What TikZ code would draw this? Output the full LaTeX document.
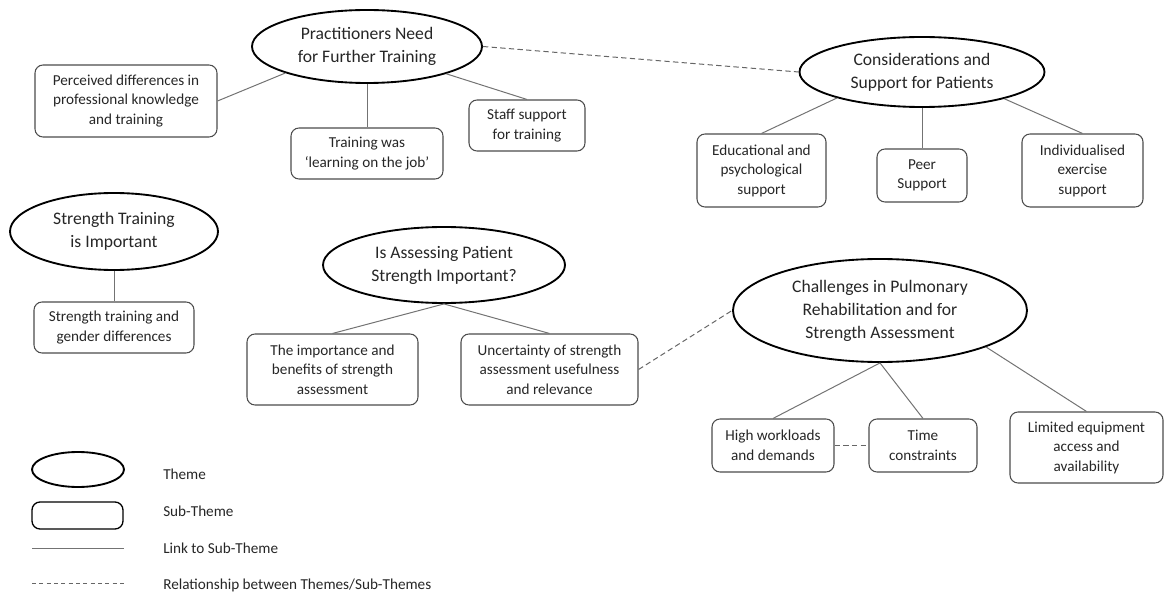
\documentclass[tikz,border=0pt]{standalone}
\usepackage{fontspec}
\setmainfont{Carlito}
\usetikzlibrary{shapes.geometric, positioning}

\begin{document}
\begin{tikzpicture}[x=0.75pt, y=-0.75pt,
  theme/.style={draw, ellipse, line width=1.4pt, inner sep=0pt, align=center, text=black!85, font=\fontsize{13.2}{17.2}\selectfont},
  sub/.style={draw=black!70, rectangle, rounded corners=6pt, line width=0.8pt, inner sep=0pt, align=center, text=black!85, font=\fontsize{11.4}{14.6}\selectfont},
  wh/.style 2 args={minimum width=#1*0.75pt, minimum height=#2*0.75pt},
  link/.style={draw=black!55, line width=0.75pt},
  rel/.style={draw=black!60, line width=0.75pt, dash pattern=on 4pt off 2.5pt},
  legend/.style={anchor=west, inner sep=0pt, text=black!85, font=\fontsize{11.4}{14.6}\selectfont}]
\useasboundingbox (0,0) rectangle (1164,595);

% themes
\node[theme, wh={230}{73}] (PNT) at (367,46.5) {Practitioners Need\\for Further Training};
\node[theme, wh={245}{70}] (CSP) at (922,72) {Considerations and\\Support for Patients};
\node[theme, wh={208}{77}] (STI) at (114,231.5) {Strength Training\\is Important};
\node[theme, wh={242}{76}] (IAS) at (444,265) {Is Assessing Patient\\Strength Important?};
\node[theme, wh={294}{103}] (CPR) at (880,310.5) {Challenges in Pulmonary\\Rehabilitation and for\\Strength Assessment};

% sub-themes
\node[sub, wh={182}{72}] (PD) at (126,101) {Perceived differences in\\professional knowledge\\and training};
\node[sub, wh={152}{51}] (TLJ) at (367,153.5) {Training was\\‘learning on the job’};
\node[sub, wh={116}{51}] (SST) at (527,125.5) {Staff support\\for training};
\node[sub, wh={129}{73}] (EPS) at (761.5,170.5) {Educational and\\psychological\\support};
\node[sub, wh={90}{53}] (PS) at (922,175.5) {Peer\\Support};
\node[sub, wh={121}{73}] (IES) at (1082.5,170.5) {Individualised\\exercise\\support};
\node[sub, wh={160}{51}] (STG) at (114,327.5) {Strength training and\\gender differences};
\node[sub, wh={171}{71}] (IBS) at (332.5,369.5) {The importance and\\benefits of strength\\assessment};
\node[sub, wh={177}{71}] (USA) at (549.5,369.5) {Uncertainty of strength\\assessment usefulness\\and relevance};
\node[sub, wh={122}{53}] (HWD) at (773,445.5) {High workloads\\and demands};
\node[sub, wh={108}{53}] (TC) at (923,445.5) {Time\\constraints};
\node[sub, wh={153}{71}] (LEA) at (1086.5,447.5) {Limited equipment\\access and\\availability};

% links
\draw[link] (PNT.198) -- (PD.east);
\draw[link] (PNT.south) -- (TLJ.north);
\draw[link] (PNT.341) -- (SST.north);
\draw[link] (CSP.197) -- (EPS.north);
\draw[link] (CSP.south) -- (PS.north);
\draw[link] (CSP.342) -- (IES.north);
\draw[link] (STI.south) -- (STG.north);
\draw[link] (IAS.south) -- (IBS.north);
\draw[link] (IAS.south) -- (USA.north);
\draw[link] (CPR.south) -- (HWD.north);
\draw[link] (CPR.south) -- (TC.north);
\draw[link] (CPR.341) -- (LEA.north);

% relationships
\draw[rel] (PNT.east) -- (CSP.west);
\draw[rel] (USA.east) -- (CPR.west);
\draw[rel] (HWD.east) -- (TC.west);

% legend
\node[theme, wh={92}{35}] (LgTheme) at (78,469.5) {};
\node[sub, draw=black, line width=1pt, wh={91}{27}] (LgSub) at (77.5,515.5) {};
\coordinate (LgLinkA) at (32,548);
\coordinate (LgLinkB) at (124,548);
\coordinate (LgRelA) at (32,583);
\coordinate (LgRelB) at (124,583);
\draw[link] (LgLinkA) -- (LgLinkB);
\draw[rel, dash pattern=on 3pt off 2.5pt] (LgRelA) -- (LgRelB);
\node[legend] (LgT1) at (163,474) {Theme};
\node[legend] (LgT2) at (163,511) {Sub-Theme};
\node[legend] (LgT3) at (163,548) {Link to Sub-Theme};
\node[legend] (LgT4) at (163,585) {Relationship between Themes/Sub-Themes};
\end{tikzpicture}
\end{document}
